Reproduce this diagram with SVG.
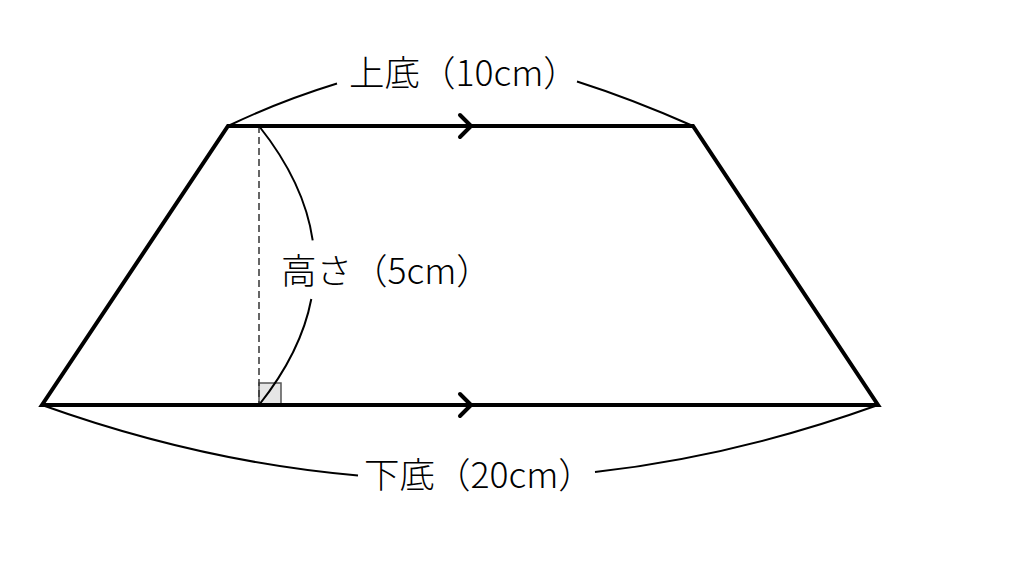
<svg xmlns="http://www.w3.org/2000/svg" width="1024" height="576" viewBox="0 0 1024 576">
<style>
.edge{fill:none;stroke:#000;stroke-width:4;stroke-linejoin:miter}
.brace{fill:none;stroke:#000;stroke-width:2}
.chev{fill:none;stroke:#000;stroke-width:4;stroke-linecap:round;stroke-linejoin:round}
.lbl{font-family:"Noto Sans CJK JP","Noto Sans",sans-serif;font-size:35.5px;font-weight:300;fill:#000}
</style>
<rect width="1024" height="576" fill="#fff"/>
<g id="trapezoid">
<rect x="259" y="383" width="22" height="22" fill="#e6e6e6" stroke="#555" stroke-width="1.5"/>
<line x1="259" y1="126" x2="259" y2="405" stroke="#333" stroke-width="1.5" stroke-dasharray="7,4"/>
<polygon class="edge" points="228,126 693,126 878,405 42,405"/>
<path class="chev" d="M460,115 L471,126 L460,137"/>
<path class="chev" d="M460,394 L471,405 L460,416"/>
</g>
<g id="connectors">
<path class="brace" d="M228,126 Q280,101 337,83.5"/>
<path class="brace" d="M577,81.5 Q632,99 693,126"/>
<path class="brace" d="M259,126 Q304.5,183.2 312.7,240.4"/>
<path class="brace" d="M311.3,299 Q301.2,352 259,405"/>
<path class="brace" d="M42,405 Q200,461.7 358,475.5"/>
<path class="brace" d="M595,472 Q736.5,456 878,405"/>
</g>
<g id="label-top"><text class="lbl" x="349" y="86">上底（10cm）</text></g>
<g id="label-height"><text class="lbl" x="281" y="284">高さ（5cm）</text></g>
<g id="label-bottom"><text class="lbl" x="364" y="488">下底（20cm）</text></g>
</svg>
